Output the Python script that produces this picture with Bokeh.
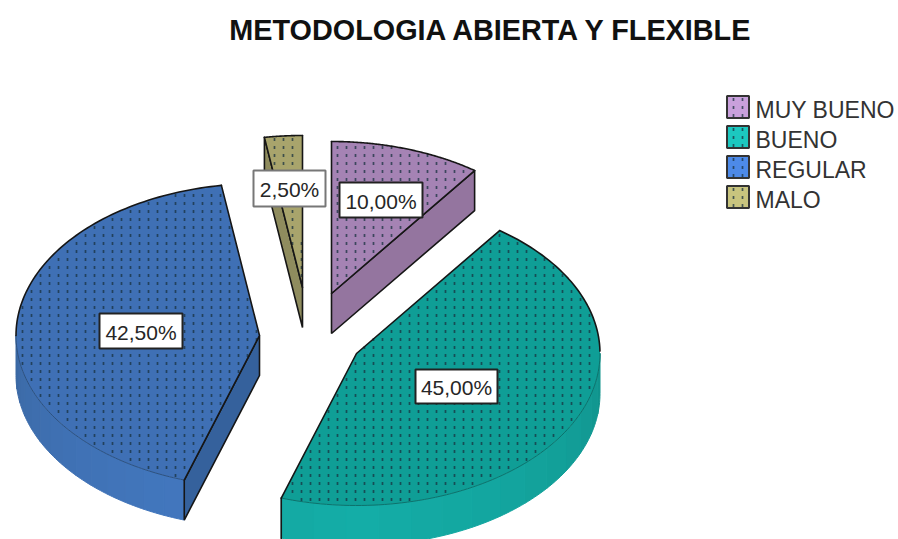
import numpy as np
from bokeh.plotting import figure
from bokeh.models import Range1d
from bokeh.core.properties import value
from bokeh.embed import file_html
from bokeh.resources import INLINE

title = "METODOLOGIA ABIERTA Y FLEXIBLE"
categories = ["MUY BUENO", "BUENO", "REGULAR", "MALO"]
percentages = [10.0, 45.0, 42.5, 2.5]

# styling and layout (page pixels)
top_colors = ["#A583B4", "#0F9E96", "#3F70B5", "#A8A46C"]
wall_colors = ["#94759F", "#0F8F88", "#35619C", "#8F8C5E"]
side_dark = ["#94759F", "#108E87", "#3A669F", "#8F8C5E"]
side_light = ["#94759F", "#14ADA7", "#4379C2", "#8F8C5E"]
legend_colors = ["#C9A0DC", "#1CC8C0", "#4D8AE8", "#C8C47E"]
apex_x = [331, 356, 259, 302]
apex_y = [293, 353, 335, 287]
label_cx = [380.5, 456, 140.5, 289]
label_cy = [199.5, 386, 330.5, 188]
label_w = [83, 82, 83, 72]
label_h = [35, 34, 35, 36]
label_edge = ["#222222", "#222222", "#222222", "#777777"]
RX, RY, DEPTH = 243.5, 152.0, 40.0
INK = "#161616"

p = figure(width=898, height=539, output_backend="svg", toolbar_location=None,
           x_range=Range1d(0, 898), y_range=Range1d(539, 0),
           min_border=0, outline_line_color=None)
p.axis.visible = False
p.grid.visible = False


def rim(i, deg):
    a = np.radians(deg)
    return apex_x[i] + RX * np.sin(a), apex_y[i] - RY * np.cos(a)


def mix(c1, c2, t):
    a = [int(c1[k:k + 2], 16) for k in (1, 3, 5)]
    b = [int(c2[k:k + 2], 16) for k in (1, 3, 5)]
    return "#%02x%02x%02x" % tuple(int(round(u + (v - u) * t)) for u, v in zip(a, b))


edges = np.concatenate([[0], np.cumsum(percentages)]) * 3.6
start, end = edges[:-1], edges[1:]


def line(xs, ys, width=1.6, color=INK):
    p.line(xs, ys, line_color=color, line_width=width, line_cap="round", line_join="round")


def dash_grid(inside, x0, x1, y0, y1, dx=9, dy=8, color="#1a3240", alpha=0.75):
    gx, gy = np.meshgrid(np.arange(x0, x1, dx), np.arange(y0, y1, dy))
    gx, gy = gx.ravel(), gy.ravel()
    keep = inside(gx, gy)
    p.segment(gx[keep], gy[keep] - 1.5, gx[keep], gy[keep] + 1.5,
              line_color=color, line_alpha=alpha, line_width=1.7)


def draw_slice(i):
    s, e = start[i], end[i]
    ax, ay = apex_x[i], apex_y[i]
    # outer visible side, in bands
    lo, hi = max(s, 90.0), min(e, 270.0)
    if lo < hi:
        bands = np.linspace(lo, hi, 15)
        xs, ys, cs = [], [], []
        for a0, a1 in zip(bands[:-1], bands[1:]):
            arc = np.linspace(a0, a1, 8)
            x0, y0 = rim(i, arc)
            xs.append(np.concatenate([x0, x0[::-1]]))
            ys.append(np.concatenate([y0, y0[::-1] + DEPTH]))
            mid = (a0 + a1) / 2
            t = np.clip(1 - abs(mid - 180) / 90, 0, 1) ** 0.6
            cs.append(mix(side_dark[i], side_light[i], t))
        p.patches(xs, ys, fill_color=cs, line_color=cs, line_width=1.0)
    # flat wall that faces the viewer
    wall = {0: e, 2: s, 3: s}.get(i)
    if wall is not None:
        wx, wy = rim(i, wall)
        xs = [ax, wx, wx, ax]
        ys = [ay, wy, wy + DEPTH, ay + DEPTH]
        p.patch(xs, ys, fill_color=wall_colors[i], line_color=INK, line_width=1.6)
    # top face
    th = np.linspace(s, e, 120)
    tx, ty = rim(i, th)
    fx = np.concatenate([[ax], tx])
    fy = np.concatenate([[ay], ty])
    p.patch(fx, fy, fill_color=top_colors[i], line_color=None)

    def inside(x, y):
        u, v = (x - ax) / RX, (y - ay) / RY
        ang = np.degrees(np.arctan2(u, -v)) % 360
        return (u * u + v * v < 0.985) & (ang > s + 0.8) & (ang < e - 0.8)

    dash_grid(inside, 13, 610, 131, 520)
    # soft seam between top and side
    if lo < hi:
        sa = np.linspace(lo, hi, 80)
        sx, sy = rim(i, sa)
        line(sx, sy, 1.0, mix(side_dark[i], "#000000", 0.2))
    # inked outline: radial edges and upper rim
    sx0, sy0 = rim(i, s)
    ex0, ey0 = rim(i, e)
    line([sx0, ax, ex0], [sy0, ay, ey0])
    up = th[(th <= 90) | (th >= 270)]
    if len(up):
        ux, uy = rim(i, up)
        line(ux, uy)
    if i == 1:
        line([ex0, ex0], [ey0, ey0 + DEPTH + 10])


for idx in [2, 1, 3, 0]:
    draw_slice(idx)

# value labels
for i, pct in enumerate(percentages):
    p.rect([label_cx[i]], [label_cy[i]], width=label_w[i], height=label_h[i],
           fill_color="#FFFFFF", line_color=label_edge[i], line_width=2)
    p.text([label_cx[i]], [label_cy[i] + 1], text=[f"{pct:.2f}%".replace(".", ",")],
           text_font=value("Liberation Sans"), text_font_size="21px", text_color="#262626",
           text_align="center", text_baseline="middle")

# title
p.text([491.5], [29], text=[title], text_font=value("Liberation Sans"), text_font_size="28.8px",
       text_font_style="bold", text_color="#111111", text_align="center", text_baseline="middle")

# legend
for i, name in enumerate(categories):
    cy = 106.5 + 30 * i
    p.rect([737.5], [cy], width=22, height=22, fill_color=legend_colors[i],
           line_color="#333333", line_width=2)
    dash_grid(lambda x, y: np.ones_like(x, dtype=bool), 733, 746, cy - 7.5, cy + 9, dx=9, dy=8)
    p.text([755], [cy + 2.5], text=[name], text_font=value("Liberation Sans"), text_font_size="23px",
           text_color="#333333", text_align="left", text_baseline="middle")

open("out.html", "w").write(file_html(p, INLINE))
